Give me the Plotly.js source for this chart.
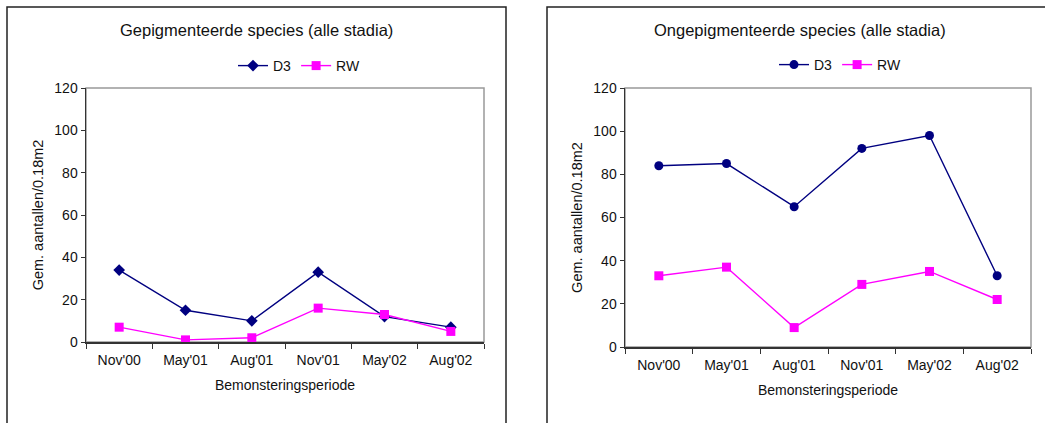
<!DOCTYPE html>
<html>
<head>
<meta charset="utf-8">
<script src="https://cdn.plot.ly/plotly-3.0.1.min.js"></script>
<style>html,body{margin:0;padding:0;background:#fff;}#chart{width:1045px;height:423px;}</style>
</head>
<body>
<div id="chart"></div>
<script>
const categories = ["Nov'00", "May'01", "Aug'01", "Nov'01", "May'02", "Aug'02"];
const leftTitle = "Gepigmenteerde species (alle stadia)";
const rightTitle = "Ongepigmenteerde species (alle stadia)";
const xTitle = "Bemonsteringsperiode";
const yTitle = "Gem. aantallen/0.18m2";
const leftD3 = [34, 15, 10, 33, 12, 7];
const leftRW = [7, 1, 2, 16, 13, 5];
const rightD3 = [84, 85, 65, 92, 98, 33];
const rightRW = [33, 37, 9, 29, 35, 22];
const yTicks = [0, 20, 40, 60, 80, 100, 120];

const navy = '#000080', magenta = '#FF00FF';
const W = 1045, H = 423;
const px = v => v / W, py = v => 1 - v / H;
const font = 'Liberation Sans, Arial, sans-serif';

const traces = [
  {x: categories, y: leftD3, name: 'D3', type: 'scatter', mode: 'lines+markers', xaxis: 'x', yaxis: 'y', legend: 'legend',
   line: {color: navy, width: 1.4}, marker: {symbol: 'diamond', size: 9, color: navy}},
  {x: categories, y: leftRW, name: 'RW', type: 'scatter', mode: 'lines+markers', xaxis: 'x', yaxis: 'y', legend: 'legend',
   line: {color: magenta, width: 1.4}, marker: {symbol: 'square', size: 9, color: magenta}},
  {x: categories, y: rightD3, name: 'D3', type: 'scatter', mode: 'lines+markers', xaxis: 'x2', yaxis: 'y2', legend: 'legend2',
   line: {color: navy, width: 1.4}, marker: {symbol: 'circle', size: 9, color: navy}},
  {x: categories, y: rightRW, name: 'RW', type: 'scatter', mode: 'lines+markers', xaxis: 'x2', yaxis: 'y2', legend: 'legend2',
   line: {color: magenta, width: 1.4}, marker: {symbol: 'square', size: 9, color: magenta}}
];

function xa(domain, anchor) {
  return {domain: domain, anchor: anchor, type: 'category', range: [-0.5, 5.5],
    showline: true, linecolor: '#333', linewidth: 1.5, ticks: 'outside', tickson: 'boundaries', ticklen: 5,
    tickcolor: '#333', showgrid: false, zeroline: false, fixedrange: true, ticklabelstandoff: 5,
    tickfont: {family: font, size: 14, color: '#111'},
    title: {text: xTitle, font: {family: font, size: 14, color: '#111'}, standoff: 13}};
}
function ya(domain, anchor) {
  return {domain: domain, anchor: anchor, range: [0, 120], tickvals: yTicks,
    showline: true, linecolor: '#333', linewidth: 1.5, ticks: 'outside', ticklen: 4, tickcolor: '#333',
    showgrid: false, zeroline: false, fixedrange: true,
    tickfont: {family: font, size: 14, color: '#111'},
    title: {text: yTitle, font: {family: font, size: 14.5, color: '#111'}, standoff: 7}};
}

const layout = {
  width: W, height: H, margin: {l: 0, r: 0, t: 0, b: 0},
  paper_bgcolor: '#fff', plot_bgcolor: '#fff', showlegend: true,
  xaxis: xa([px(86), px(484)], 'y'),
  yaxis: ya([py(342), py(88)], 'x'),
  xaxis2: xa([px(625), px(1031)], 'y2'),
  yaxis2: ya([py(347), py(88)], 'x2'),
  legend: {orientation: 'h', x: px(233), y: py(66), xanchor: 'left', yanchor: 'middle',
    font: {family: font, size: 14, color: '#111'}, bgcolor: 'rgba(0,0,0,0)', itemwidth: 30, tracegroupgap: 0},
  legend2: {orientation: 'h', x: px(774), y: py(65), xanchor: 'left', yanchor: 'middle',
    font: {family: font, size: 14, color: '#111'}, bgcolor: 'rgba(0,0,0,0)', itemwidth: 30, tracegroupgap: 0},
  annotations: [
    {text: leftTitle, xref: 'paper', yref: 'paper', x: px(256), y: py(30), xanchor: 'center', yanchor: 'middle',
     showarrow: false, font: {family: font, size: 16.5, color: '#111'}},
    {text: rightTitle, xref: 'paper', yref: 'paper', x: px(800), y: py(30), xanchor: 'center', yanchor: 'middle',
     showarrow: false, font: {family: font, size: 16.5, color: '#111'}}
  ],
  shapes: [
    {type: 'rect', xref: 'paper', yref: 'paper', x0: px(7), x1: px(506), y0: py(440), y1: py(7),
     line: {color: '#222', width: 1.5}, layer: 'below'},
    {type: 'rect', xref: 'paper', yref: 'paper', x0: px(547), x1: px(1050), y0: py(440), y1: py(7),
     line: {color: '#222', width: 1.5}, layer: 'below'},
    {type: 'rect', xref: 'x domain', yref: 'y domain', x0: 0, x1: 1, y0: 0, y1: 1,
     line: {color: '#999', width: 1.5}, layer: 'below'},
    {type: 'rect', xref: 'x2 domain', yref: 'y2 domain', x0: 0, x1: 1, y0: 0, y1: 1,
     line: {color: '#999', width: 1.5}, layer: 'below'}
  ]
};

Plotly.newPlot('chart', traces, layout, {displayModeBar: false, staticPlot: true});
</script>
</body>
</html>
